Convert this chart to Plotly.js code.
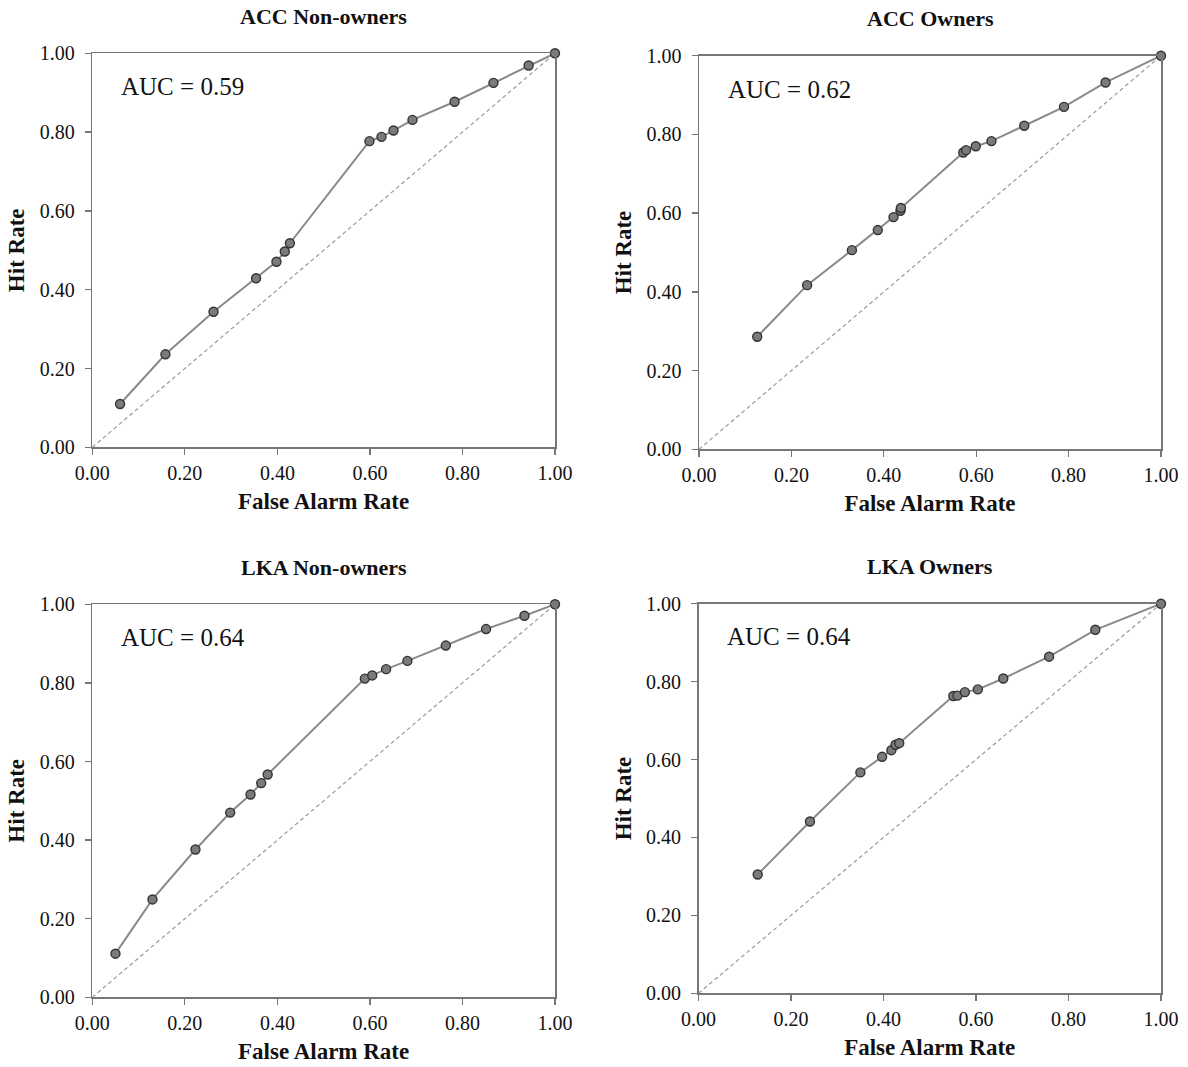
<!DOCTYPE html>
<html>
<head>
<meta charset="utf-8">
<script src="https://cdn.plot.ly/plotly-3.0.1.min.js"></script>
<style>html,body{margin:0;padding:0;background:#fff;}#chart{width:1188px;height:1067px;}</style>
</head>
<body>
<div id="chart"></div>
<script>
// ---- data ----
const panelTitles = ["ACC Non-owners", "ACC Owners", "LKA Non-owners", "LKA Owners"];
const aucLabels = ["AUC = 0.59", "AUC = 0.62", "AUC = 0.64", "AUC = 0.64"];
const tickVals = [0, 0.2, 0.4, 0.6, 0.8, 1.0];
const tickText = ["0.00", "0.20", "0.40", "0.60", "0.80", "1.00"];
const chanceLine = [0, 1];

const accNonFA  = [0.060, 0.158, 0.262, 0.354, 0.398, 0.416, 0.427, 0.599, 0.625, 0.651, 0.692, 0.783, 0.867, 0.943, 1.00];
const accNonHit = [0.110, 0.236, 0.344, 0.429, 0.471, 0.497, 0.518, 0.777, 0.788, 0.804, 0.831, 0.877, 0.925, 0.969, 1.00];

const accOwnFA  = [0.126, 0.234, 0.331, 0.387, 0.421, 0.436, 0.437, 0.572, 0.578, 0.599, 0.633, 0.704, 0.790, 0.880, 1.00];
const accOwnHit = [0.286, 0.417, 0.506, 0.557, 0.590, 0.606, 0.613, 0.754, 0.760, 0.770, 0.783, 0.822, 0.870, 0.932, 1.00];

const lkaNonFA  = [0.050, 0.130, 0.223, 0.298, 0.342, 0.365, 0.379, 0.589, 0.605, 0.635, 0.681, 0.764, 0.851, 0.934, 1.00];
const lkaNonHit = [0.111, 0.249, 0.376, 0.470, 0.516, 0.545, 0.567, 0.811, 0.819, 0.835, 0.856, 0.895, 0.937, 0.971, 1.00];

const lkaOwnFA  = [0.128, 0.241, 0.350, 0.397, 0.417, 0.426, 0.434, 0.551, 0.560, 0.576, 0.604, 0.659, 0.758, 0.858, 1.00];
const lkaOwnHit = [0.305, 0.441, 0.567, 0.607, 0.624, 0.638, 0.642, 0.763, 0.764, 0.773, 0.780, 0.808, 0.864, 0.933, 1.00];

const seriesFA  = [accNonFA, accOwnFA, lkaNonFA, lkaOwnFA];
const seriesHit = [accNonHit, accOwnHit, lkaNonHit, lkaOwnHit];

// ---- layout geometry ----
const W = 1188, H = 1067;
const xDomains = [[92.3/W, 555/W], [699/W, 1161/W], [92.3/W, 555/W], [698.5/W, 1161/W]];
const yDomains = [[1-447.3/H, 1-53.3/H], [1-449.3/H, 1-55.7/H], [1-997.3/H, 1-604.3/H], [1-993.3/H, 1-603.7/H]];

const serif = "Liberation Serif, Times New Roman, serif";
const traces = [];
const layout = {
  width: W, height: H,
  margin: {l: 0, r: 0, t: 0, b: 0},
  paper_bgcolor: "#fff", plot_bgcolor: "#fff",
  showlegend: false,
  font: {family: serif, color: "#111", size: 20},
  annotations: []
};

for (let i = 0; i < 4; i++) {
  const sfx = i === 0 ? "" : String(i + 1);
  const xa = "x" + sfx, ya = "y" + sfx;
  traces.push({
    x: chanceLine, y: chanceLine, xaxis: xa, yaxis: ya,
    mode: "lines", line: {color: "#9a9a9a", width: 1.2, dash: "4px,3px"},
    hoverinfo: "skip"
  });
  traces.push({
    x: seriesFA[i], y: seriesHit[i], xaxis: xa, yaxis: ya,
    mode: "lines+markers",
    line: {color: "#8a8a8a", width: 2},
    marker: {size: 9, color: "#7b7b7b", line: {color: "#333", width: 1.4}},
    cliponaxis: false
  });
  const axCommon = {
    range: [0, 1], autorange: false, fixedrange: true,
    tickvals: tickVals, ticktext: tickText,
    ticks: "outside", ticklen: 6, tickwidth: 1.3, tickcolor: "#777",
    showline: true, linecolor: "#777", linewidth: 1.5, mirror: true,
    showgrid: false, zeroline: false,
    tickfont: {family: serif, size: 20, color: "#111"}
  };
  layout["xaxis" + sfx] = Object.assign({}, axCommon, {
    domain: xDomains[i], anchor: ya, ticklabelstandoff: 1,
    title: {text: "<b>False Alarm Rate</b>", font: {family: serif, size: 23, color: "#111"}, standoff: 10}
  });
  layout["yaxis" + sfx] = Object.assign({}, axCommon, {
    domain: yDomains[i], anchor: xa, ticklabelstandoff: 6,
    title: {text: "<b>Hit Rate</b>", font: {family: serif, size: 23, color: "#111"}, standoff: 8}
  });
  const xc = (xDomains[i][0] + xDomains[i][1]) / 2;
  layout.annotations.push({
    text: "<b>" + panelTitles[i] + "</b>", xref: "paper", yref: "paper",
    x: xc, y: yDomains[i][1] + 37/H, xanchor: "center", yanchor: "middle",
    showarrow: false, font: {family: serif, size: 22, color: "#111"}
  });
  layout.annotations.push({
    text: aucLabels[i], xref: xa + " domain", yref: ya + " domain",
    x: 0.058, y: 0.915, xanchor: "left", yanchor: "middle",
    showarrow: false, font: {family: serif, size: 25, color: "#111"}
  });
}

Plotly.newPlot("chart", traces, layout, {displayModeBar: false, staticPlot: true});
</script>
</body>
</html>
